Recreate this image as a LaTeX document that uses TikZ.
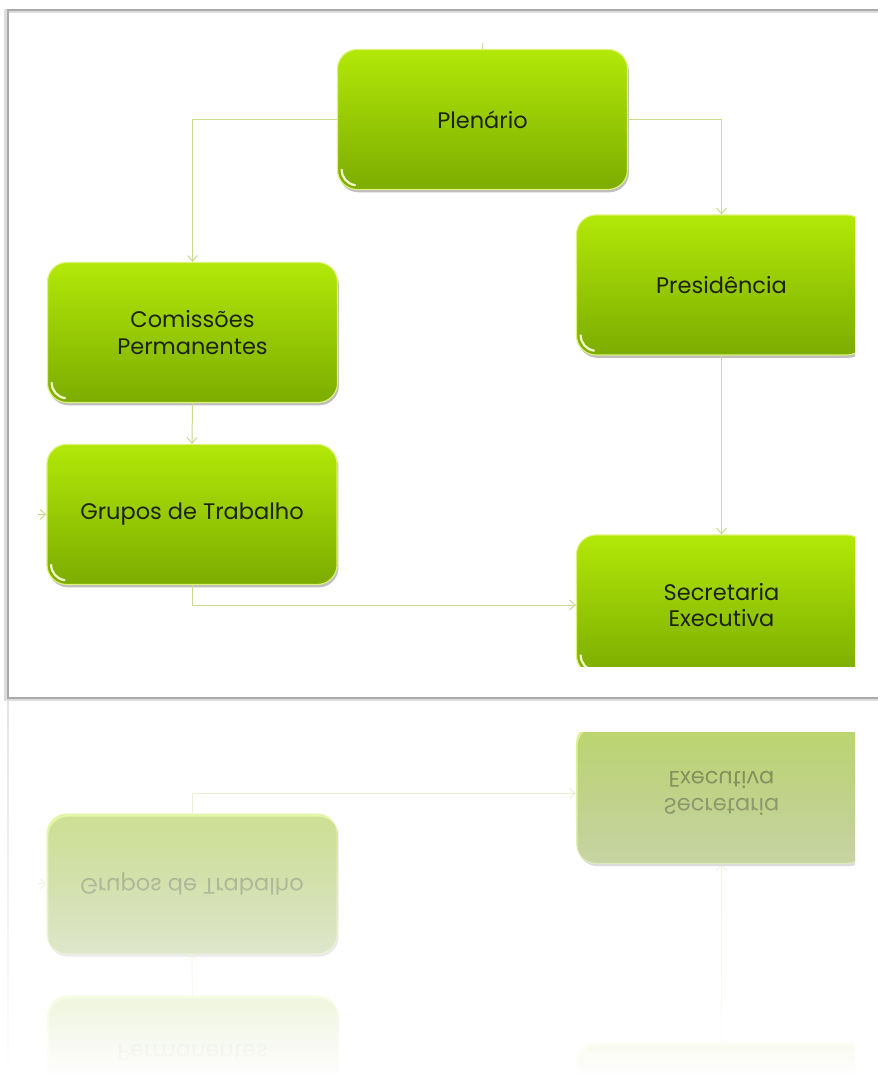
\documentclass[tikz,border=0pt]{standalone}
\usepackage{fontspec}
\setmainfont{Poppins}
\usetikzlibrary{positioning,shadows,fadings,arrows.meta}

\definecolor{boxtop}{RGB}{178,232,8}
\definecolor{boxbot}{RGB}{124,172,0}
\definecolor{boxrim}{RGB}{222,242,120}
\definecolor{linkcol}{RGB}{200,218,140}
\definecolor{txtcol}{RGB}{28,36,8}
\definecolor{framecol}{RGB}{170,170,170}

\tikzfading[name=fadedown, top color=transparent!100, bottom color=transparent!0]

% the chart, drawn once straight and once mirrored
% #1 Plenario text, #2 Presidencia text, #3 Comissoes text
\newcommand{\orgchart}[3]{%
  \begin{scope}
    \clip (8,10) rectangle (855,666);
    \node [orgbox] (plen) at (482.5,119.5) {#1};
    \node [orgbox] (pres) at (721.5,285)   {#2};
    \node [orgbox] (com)  at (192.5,332.5) {#3};
    \node [orgbox] (grp)  at (192,514.5)   {Grupos de Trabalho};
    \node [orgbox] (sec)  at (721.5,605)   {Secretaria\\Executiva};
    % loose ends
    \coordinate (intop)  at (483,43);
    \coordinate (inleft) at (38,514.5);
    % connections
    \draw [link,-] (intop) -- (plen.north);
    \draw [link] (inleft) -- (grp.west);
    \draw [link] (plen.west) -| (com.north);
    \draw [link] (plen.east) -| (pres.north);
    \draw [link] (com.south) -- (grp.north);
    \draw [link] (pres.south) -- (sec.north);
    \draw [link] (grp.south) |- (sec.west);
  \end{scope}%
}

\begin{document}
\begin{tikzpicture}[
	x=0.025cm, y=-0.025cm,
	>={Straight Barb[length=4pt,width=7pt]},
	orgbox/.style = {
		draw=boxrim, line width=0.8pt,
		rounded corners=14pt,
		top color=boxtop, bottom color=boxbot,
		minimum width=7.25cm,
		minimum height=3.5cm,
		align=center, text=txtcol,
		font=\fontsize{16}{19}\selectfont,
		drop shadow={shadow xshift=1pt, shadow yshift=-2pt, opacity=0.25, fill=black},
		path picture={
			\draw [white!60!boxrim, line width=1.6pt, line cap=round]
				([shift={(3pt,14pt)}]path picture bounding box.south west)
				arc [start angle=180, end angle=262, radius=11pt];
		},
	},
	link/.style = {draw=linkcol, line width=0.7pt, ->},
]

\useasboundingbox (0,0) rectangle (878,1075);
\fill [white] (0,0) rectangle (878,1075);

% frame
\fill [white] (8,10) rectangle (878,698);
\draw [framecol!40, line width=3pt] (878,11) -- (6,11) -- (6,699) -- (878,699);
\draw [framecol, line width=1.2pt] (878,10) -- (8,10) -- (8,698) -- (878,698);

\orgchart{Plenário}{Presidência}{Comissões\\Permanentes}

% reflection
\begin{scope}
	\clip (0,700) rectangle (878,1075);
	\draw [framecol!30, line width=1pt] (8,700) -- (8,1075);
	\begin{scope}[yshift=-34.95cm, yscale=-1, opacity=0.5,
		every node/.append style={transform shape}]
		\orgchart{}{}{\phantom{Comissões}\\Permanentes}
	\end{scope}
	\fill [white, path fading=fadedown] (0,700) rectangle (878,1075);
\end{scope}

\end{tikzpicture}
\end{document}
